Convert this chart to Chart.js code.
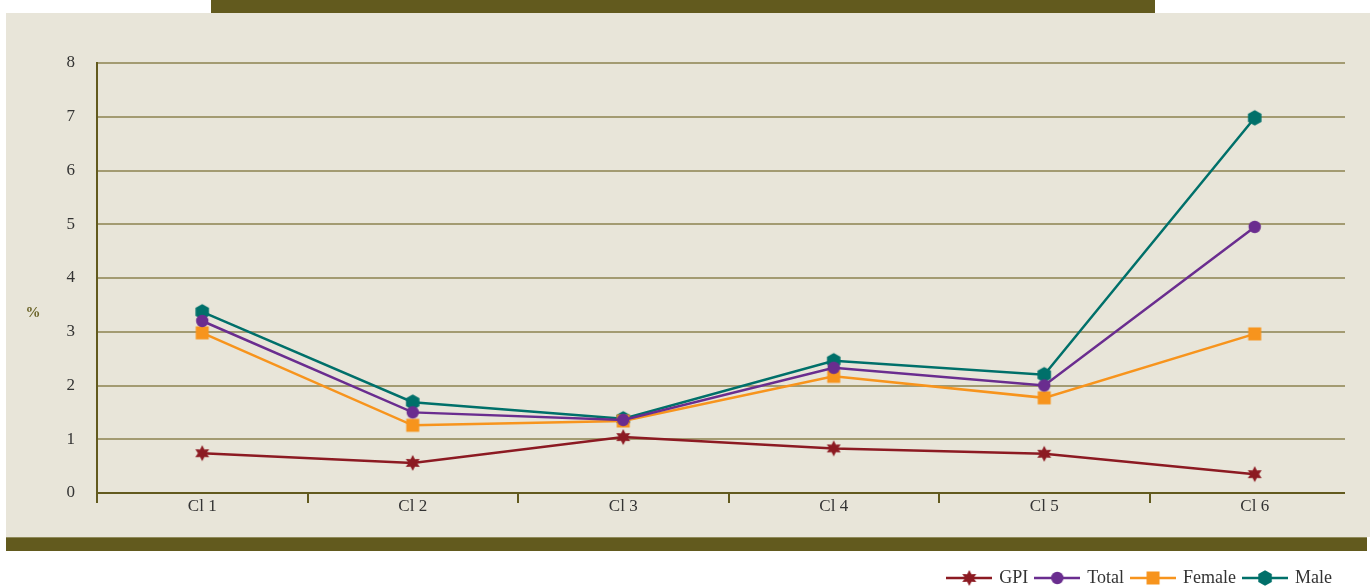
<!DOCTYPE html>
<html>
<head>
<meta charset="utf-8">
<script src="https://cdn.jsdelivr.net/npm/chart.js@4.4.0/dist/chart.umd.min.js"></script>
<style>
  body { margin: 0; background: #ffffff; }
  canvas { display: block; }
</style>
</head>
<body>
<canvas id="grafico" width="1370" height="586"></canvas>
<script>
// datos
const categories = ["Cl 1", "Cl 2", "Cl 3", "Cl 4", "Cl 5", "Cl 6"];
const gpi = [0.74, 0.56, 1.04, 0.83, 0.73, 0.35];
const total = [3.2, 1.5, 1.36, 2.33, 2.0, 4.95];
const female = [2.98, 1.26, 1.34, 2.17, 1.77, 2.96];
const male = [3.37, 1.69, 1.38, 2.46, 2.2, 6.98];
const seriesNames = ["GPI", "Total", "Female", "Male"];

const OLIVE = "#625a1e";
const GRID = "#a39b72";
const PANEL = "#e8e5d9";
const colors = { GPI: "#8c1a22", Total: "#6a2d8f", Female: "#f7941d", Male: "#00706a" };

// dibuja un marcador en un contexto
function drawShape(ctx, shape, cx, cy, color) {
    ctx.fillStyle = color;
    ctx.beginPath();
    if (shape === "star") {
        for (let i = 0; i < 12; i++) {
            const r = i % 2 === 0 ? 8 : 4.3;
            const a = -Math.PI / 2 + i * Math.PI / 6;
            const x = cx + r * Math.cos(a), y = cy + r * Math.sin(a);
            i === 0 ? ctx.moveTo(x, y) : ctx.lineTo(x, y);
        }
        ctx.closePath();
    } else if (shape === "circle") {
        ctx.arc(cx, cy, 6.2, 0, Math.PI * 2);
    } else if (shape === "square") {
        ctx.rect(cx - 6.5, cy - 6.5, 13, 13);
    } else {
        for (let i = 0; i < 6; i++) {
            const a = -Math.PI / 2 + i * Math.PI / 3;
            const x = cx + 7.8 * Math.cos(a), y = cy + 7.8 * Math.sin(a);
            i === 0 ? ctx.moveTo(x, y) : ctx.lineTo(x, y);
        }
        ctx.closePath();
    }
    ctx.fill();
}

function makeMarker(shape, color) {
    const c = document.createElement("canvas");
    c.width = 18; c.height = 18;
    drawShape(c.getContext("2d"), shape, 9, 9, color);
    return c;
}

function makeLegendIcon(shape, color) {
    const c = document.createElement("canvas");
    c.width = 46; c.height = 18;
    const ctx = c.getContext("2d");
    ctx.strokeStyle = color;
    ctx.lineWidth = 2.5;
    ctx.beginPath();
    ctx.moveTo(0, 9); ctx.lineTo(46, 9);
    ctx.stroke();
    drawShape(ctx, shape, 23, 9, color);
    return c;
}

const shapes = { GPI: "star", Total: "circle", Female: "square", Male: "hexagon" };
const valores = { GPI: gpi, Total: total, Female: female, Male: male };

const datasets = seriesNames.map(name => ({
    label: name,
    data: valores[name],
    borderColor: colors[name],
    backgroundColor: colors[name],
    borderWidth: 2.5,
    pointStyle: makeMarker(shapes[name], colors[name]),
    legendIcon: makeLegendIcon(shapes[name], colors[name]),
    tension: 0
}));

// fondo, barras oliva y etiqueta "%"
const decoracion = {
    id: "decoracion",
    beforeDraw(chart) {
        const ctx = chart.ctx;
        ctx.save();
        ctx.fillStyle = "#ffffff";
        ctx.fillRect(0, 0, 1370, 586);
        ctx.fillStyle = PANEL;
        ctx.fillRect(6, 13, 1364, 524);
        ctx.fillStyle = OLIVE;
        ctx.fillRect(211, 0, 944, 13);
        ctx.fillRect(6, 537, 1361, 14);
        ctx.fillStyle = "#8f8a5a";
        ctx.fillRect(6, 537, 1361, 1);
        ctx.restore();
    },
    beforeDatasetsDraw(chart) {
        // las lineas de la rejilla terminan antes del borde derecho
        const ctx = chart.ctx;
        ctx.save();
        ctx.fillStyle = PANEL;
        ctx.fillRect(1345, 50, 25, 460);
        ctx.restore();
    },
    afterDraw(chart) {
        const ctx = chart.ctx;
        ctx.save();
        ctx.fillStyle = "#6b6428";
        ctx.font = "bold 15px 'Liberation Serif'";
        ctx.textAlign = "center";
        ctx.textBaseline = "middle";
        ctx.fillText("%", 33, 313);
        ctx.restore();
    },
    afterLayout(chart) {
        // mover la leyenda abajo a la derecha
        const lg = chart.legend;
        lg.top += 11; lg.bottom += 11;
        lg.left -= 20; lg.right -= 20;
    }
};

document.addEventListener("DOMContentLoaded", function () {
    const ctx = document.getElementById("grafico").getContext("2d");
    new Chart(ctx, {
        type: "line",
        data: { labels: categories, datasets: datasets },
        options: {
            responsive: false,
            animation: false,
            layout: { padding: { left: 0, right: 10, top: 63, bottom: 0 } },
            scales: {
                x: {
                    offset: true,
                    grid: {
                        offset: true,
                        drawOnChartArea: false,
                        tickLength: 10,
                        lineWidth: 2,
                        color: c => c.type === "tick" ? OLIVE : "rgba(0,0,0,0)"
                    },
                    border: { color: OLIVE, width: 2 },
                    ticks: {
                        color: "#333333",
                        padding: -7,
                        font: { family: "'Liberation Serif'", size: 17 }
                    },
                    afterFit(scale) { scale.height = 57; }
                },
                y: {
                    min: 0,
                    max: 8,
                    ticks: {
                        stepSize: 1,
                        padding: 22,
                        color: "#333333",
                        font: { family: "'Liberation Serif'", size: 17 }
                    },
                    grid: {
                        drawTicks: false,
                        lineWidth: 2,
                        color: c => c.tick && c.tick.value === 0 ? "rgba(0,0,0,0)" : GRID
                    },
                    border: { color: OLIVE, width: 2 },
                    afterFit(scale) { scale.width = 97; }
                }
            },
            plugins: {
                legend: {
                    position: "bottom",
                    align: "end",
                    labels: {
                        usePointStyle: true,
                        pointStyleWidth: 42,
                        padding: 8,
                        color: "#333333",
                        font: { family: "'Liberation Serif'", size: 18 },
                        generateLabels(chart) {
                            return chart.data.datasets.map((ds, i) => ({
                                text: ds.label,
                                pointStyle: ds.legendIcon,
                                fillStyle: ds.borderColor,
                                strokeStyle: ds.borderColor,
                                fontColor: "#333333",
                                lineWidth: 0,
                                hidden: false,
                                datasetIndex: i
                            }));
                        }
                    }
                },
                tooltip: { enabled: false }
            }
        },
        plugins: [decoracion]
    });
});
</script>
</body>
</html>
